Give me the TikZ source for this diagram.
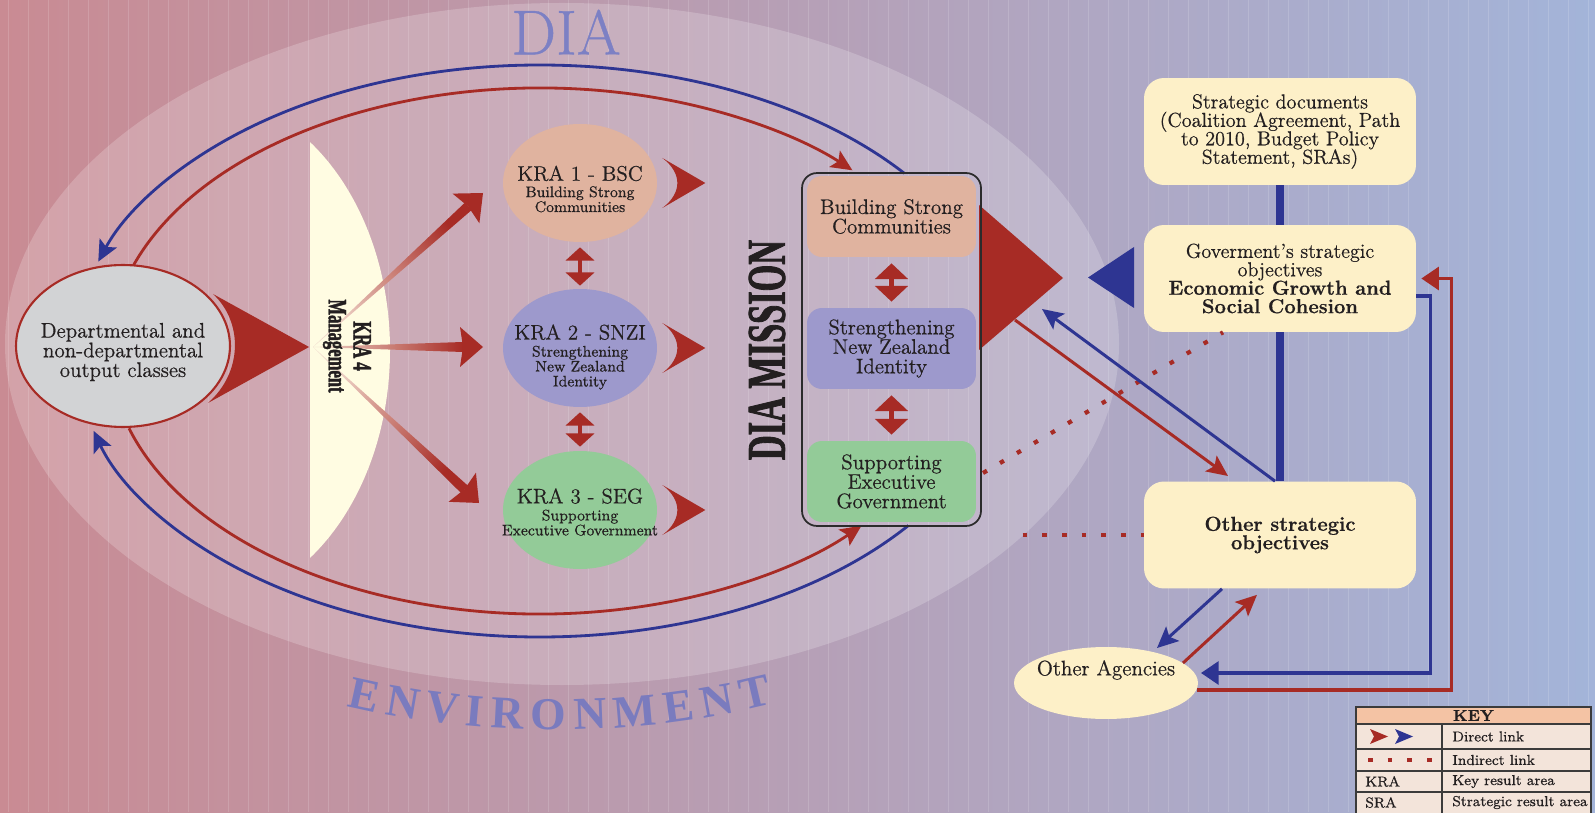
\documentclass[tikz,border=0pt]{standalone}
\usepackage{fontspec}
\setmainfont{Latin Modern Roman}[FakeBold=0.6]
\usetikzlibrary{arrows.meta, calc, shapes.geometric, decorations.text}

\newfontfamily\condbf{Liberation Serif}[UprightFont=* Bold, FakeStretch=0.63, FakeBold=1.5]
\newfontfamily\envbf{Liberation Serif}[UprightFont=* Bold]

\definecolor{bgl}{HTML}{C98B93}
\definecolor{bgm}{HTML}{B9A5BA}
\definecolor{bgr}{HTML}{A3B4D9}
\definecolor{dred}{HTML}{A72B25}
\definecolor{dblue}{HTML}{2E3592}
\definecolor{ink}{HTML}{231F20}
\definecolor{peach}{HTML}{E0B39F}
\definecolor{lav}{HTML}{9D99CC}
\definecolor{mint}{HTML}{93CB98}
\definecolor{cream}{HTML}{FDF0C8}
\definecolor{lensc}{HTML}{FFFCE2}
\definecolor{greyfill}{HTML}{D2D3D5}
\definecolor{dialbl}{HTML}{7C80C4}
\definecolor{envblue}{HTML}{7A7BBE}
\definecolor{keyhead}{HTML}{F4C3A4}
\definecolor{keybody}{HTML}{F3E4DA}
\definecolor{keyline}{HTML}{3B3B3B}
\definecolor{shaftlo}{HTML}{F0D8CC}
\definecolor{boxline}{HTML}{2B2B2B}

\newcommand{\fsz}[2]{\fontsize{#1}{#2}\selectfont}
\newcommand{\envfont}{\envbf\fsz{26}{26}}

\tikzset{
  kra/.style={ellipse, inner sep=0pt, minimum width=3.08cm, minimum height=2.36cm},
  kratext/.style={align=center, inner sep=0pt, text=ink, font=\fsz{8.7}{8.5}},
  msbox/.style={rounded corners=0.3cm, inner sep=0pt, minimum width=3.38cm, minimum height=1.62cm, align=center, text=ink, font=\fsz{12}{11.1}},
  sobox/.style={fill=cream, rounded corners=0.4cm, inner sep=0pt, minimum width=5.44cm, minimum height=2.14cm, align=center, text=ink, font=\fsz{11.5}{10.5}},
  loopline/.style={line width=1.6pt, -{Stealth[length=12pt,width=11pt,inset=2.5pt]}},
  redlink/.style={draw=dred, line width=1.7pt, -{Stealth[length=12pt,width=11pt,inset=2.5pt]}},
  bluelink/.style={draw=dblue, line width=1.7pt, -{Stealth[length=12pt,width=11pt,inset=2.5pt]}},
  elbow/.style={line width=2pt, -{Triangle[length=10pt,width=13pt]}},
  dotlink/.style={draw=dred, line width=2.4pt, dash pattern=on 2.6pt off 8.6pt},
  krapair/.style={draw=dred, line width=2.6pt, {Triangle[width=16pt,length=7.5pt]}-{Triangle[width=16pt,length=7.5pt]}},
  mspair/.style={draw=dred, line width=2.8pt, {Triangle[width=18.5pt,length=9pt]}-{Triangle[width=18.5pt,length=9pt]}},
  keytext/.style={anchor=west, inner sep=0pt, text=ink, font=\fsz{8.2}{8.2}}
}

\begin{document}
\setlength{\lineskiplimit}{-20pt}
\begin{tikzpicture}[x=0.02cm, y=0.02cm]
  \clip (0,0) rectangle (1595,812);
  \shade[left color=bgl, middle color=bgm, right color=bgr] (0,0) rectangle (1595,812);
  \foreach \i in {0,...,79}
    \draw[white, opacity=0.15, line width=0.4pt] (\i*20+8,0) -- (\i*20+8,812);
  \fill[white, opacity=0.2] (562,468) ellipse [x radius=557, y radius=341];

  \node[text=dialbl, font=\fsz{36}{36}] (dialbl) at (566,780) {DIA};
  \coordinate (envc) at (555,468);
  \path[decorate, decoration={text along path, text={|\envfont|ENVIRONMENT}, text color=envblue, text align=fit to path}]
    ($(envc)+(249.7:600 and 386)$) arc[start angle=249.7, end angle=291.3, x radius=600, y radius=386];

  \coordinate (loopc) at (540,461);
  \draw[loopline, dblue] ($(loopc)+(38.4:465 and 286)$) arc[start angle=38.4, end angle=161.8, x radius=465, y radius=286];
  \draw[loopline, dred] ($(loopc)+(161.3:430 and 263)$) arc[start angle=161.3, end angle=43.4, x radius=430, y radius=263];
  \draw[loopline, dblue] ($(loopc)+(-37.6:465 and 286)$) arc[start angle=-37.6, end angle=-163.8, x radius=465, y radius=286];
  \draw[loopline, dred] ($(loopc)+(197.1:430 and 263)$) arc[start angle=197.1, end angle=318.4, x radius=430, y radius=263];

  \begin{scope}
    \clip (310,0) rectangle (420,812);
    \fill[lensc] (200,462) ellipse [x radius=190, y radius=255];
  \end{scope}

  \node[ellipse, fill=greyfill, draw=dred, line width=1.2pt, inner sep=0pt, minimum width=4.28cm, minimum height=3.24cm] (dept) at (123,466) {};
  \node[align=center, inner sep=0pt, text=ink, font=\fsz{12}{11.2}] (depttxt) at (123,460) {Departmental and\\non-departmental\\output classes};
  \fill[dred] ([shift={(-18,52)}]dept.east) -- ([shift={(78,-1)}]dept.east) -- ([shift={(-23,-57)}]dept.east)
    .. controls ([shift={(12,-26)}]dept.east) and ([shift={(12,24)}]dept.east) .. cycle;

  \coordinate (kfoc) at (313,465);
  \coordinate (tipa) at (483,619);
  \coordinate (tipb) at (483,465);
  \coordinate (tipc) at (479,309);
  \foreach \tp/\ang in {tipa/-47.8, tipb/-90, tipc/-133.2} {
    \shade[bottom color=shaftlo, top color=dred, shading angle=\ang]
      (kfoc) -- ($(\tp)!0.4cm!(kfoc)!0.1cm!90:(\tp)$) -- ($(\tp)!0.4cm!(kfoc)!0.1cm!-90:(\tp)$) -- cycle;
    \fill[dred] (\tp) -- ($(\tp)!0.46cm!(kfoc)!0.4cm!90:(\tp)$) -- ($(\tp)!0.4cm!(kfoc)$)
      -- ($(\tp)!0.46cm!(kfoc)!0.4cm!-90:(\tp)$) -- cycle;
  }
  \node[rotate=-90, align=center, text=ink, font=\condbf\fsz{15}{14.2}] (lenslbl) at (347,466) {KRA 4\\Management};

  \node[kra, fill=peach] (kraone) at (580,629) {};
  \node[kra, fill=lav] (kratwo) at (580,464) {};
  \node[kra, fill=mint] (krathree) at (580,302) {};
  \node[kratext] (kraonetxt) at (580,623) {{\fsz{12}{12}KRA 1 - BSC}\\[0.8pt]Building Strong\\Communities};
  \node[kratext] (kratwotxt) at (580,455) {{\fsz{12}{12}KRA 2 - SNZI}\\[1.2pt]Strengthening\\New Zealand\\Identity};
  \node[kratext] (krathreetxt) at (580,300) {{\fsz{12}{12}KRA 3 - SEG}\\[1.2pt]Supporting\\Executive Government};
  \foreach \k in {kraone, kratwo, krathree}
    \fill[dred] ([shift={(5,25)}]\k.east) -- ([shift={(48,0)}]\k.east) -- ([shift={(5,-25)}]\k.east)
      .. controls ([shift={(25,-10)}]\k.east) and ([shift={(25,10)}]\k.east) .. cycle;
  \draw[krapair, shorten <=0.1cm, shorten >=0.06cm] (kraone.south) -- (kratwo.north);
  \draw[krapair, shorten <=0.1cm, shorten >=0.08cm] (kratwo.south) -- (krathree.north);

  \fill[dred] (979,607) -- (1063,534) -- (979,462) -- cycle;
  \node[draw=boxline, line width=1pt, rounded corners=0.3cm, minimum width=3.58cm, minimum height=7.06cm, inner sep=0pt] (mission) at (891.5,462.5) {};
  \node[msbox, fill=peach] (msbsc) at (891.5,595.5) {Building Strong\\Communities};
  \node[msbox, fill=lav] (msnzi) at (891.5,463.5) {Strengthening\\New Zealand\\Identity};
  \node[msbox, fill=mint] (mseg) at (891.5,330.5) {Supporting\\Executive\\Government};
  \draw[mspair, shorten <=0.12cm, shorten >=0.12cm] (msbsc.south) -- (msnzi.north);
  \draw[mspair, shorten <=0.12cm, shorten >=0.12cm] (msnzi.south) -- (mseg.north);
  \node[rotate=90, text=ink, font=\condbf\fsz{31}{31}] (missionlbl) at (767,462) {DIA MISSION};

  \node[sobox] (docs) at (1280,680.5) {Strategic documents\\(Coalition Agreement, Path\\to 2010, Budget Policy\\Statement, SRAs)};
  \node[sobox] (other) at (1280,277) {\textbf{Other strategic}\\\textbf{objectives}};
  \draw[dblue, line width=4.8pt] (docs.south) -- (other.north);
  \node[sobox] (gov) at (1280,533.5) {Goverment's strategic\\objectives\\\textbf{Economic Growth and}\\\textbf{Social Cohesion}};
  \fill[dblue] (1088,534.5) -- (1134,565) -- (1134,504) -- cycle;

  \coordinate (segdot) at (983,339);
  \draw[dotlink] (segdot) -- ([xshift=-1.14cm]gov.south);
  \draw[dotlink] ([xshift=-2.42cm]other.west) -- (other.west);

  \coordinate (rdstart) at (1015,492);
  \coordinate (rdend) at (1228,336);
  \coordinate (bdend) at (1042,503);
  \draw[redlink] (rdstart) -- (rdend);
  \draw[bluelink] ([xshift=-0.1cm]other.north) -- (bdend);

  \node[ellipse, fill=cream, inner sep=0pt, minimum width=3.68cm, minimum height=1.44cm] (agencies) at (1106,129) {};
  \node[inner sep=0pt, text=ink, font=\fsz{12}{12}] (agtxt) at (1106,142) {Other Agencies};
  \coordinate (agin) at (1157,164);
  \coordinate (agout) at (1183,149);
  \draw[bluelink] ([xshift=-1.16cm]other.south) -- (agin);
  \draw[redlink] (agout) -- ([shift={(-0.46cm,-0.12cm)}]other.south);
  \coordinate (agblue) at (1201,139);
  \coordinate (agred) at (1197,122);
  \draw[elbow, dblue] ([yshift=-0.35cm]gov.east) -- ++(0.28cm,0) |- (agblue);
  \draw[elbow, dred] (agred) -| ([xshift=0.7cm]gov.east) -- ([xshift=0.1cm]gov.east);

  \fill[keyhead] (1356,88) rectangle (1591,105);
  \fill[keybody] (1356,-5) rectangle (1591,88);
  \draw[keyline, line width=0.8pt] (1356,-5) rectangle (1591,105);
  \foreach \yy in {88,63,41,20}
    \draw[keyline, line width=0.8pt] (1356,\yy) -- (1591,\yy);
  \draw[keyline, line width=0.8pt] (1442,-5) -- (1442,88);
  \node[text=ink, font=\bfseries\fsz{9}{9}] (keyhd) at (1473.5,96.5) {KEY};
  \fill[dred] (1370,83) -- (1388,75.5) -- (1370,68) -- (1374,75.5) -- cycle;
  \fill[dblue] (1395,83) -- (1413,75.5) -- (1395,68) -- (1399,75.5) -- cycle;
  \draw[dotlink] (1368,52) -- (1436,52);
  \node[keytext] (keyd) at (1452,75.5) {Direct link};
  \node[keytext] (keyi) at (1452,52) {Indirect link};
  \node[keytext] (keyk) at (1365,30.5) {KRA};
  \node[keytext] (keykd) at (1452,30.5) {Key result area};
  \node[keytext] (keys) at (1365,9.5) {SRA};
  \node[keytext] (keysd) at (1452,9.5) {Strategic result area};
\end{tikzpicture}
\end{document}
